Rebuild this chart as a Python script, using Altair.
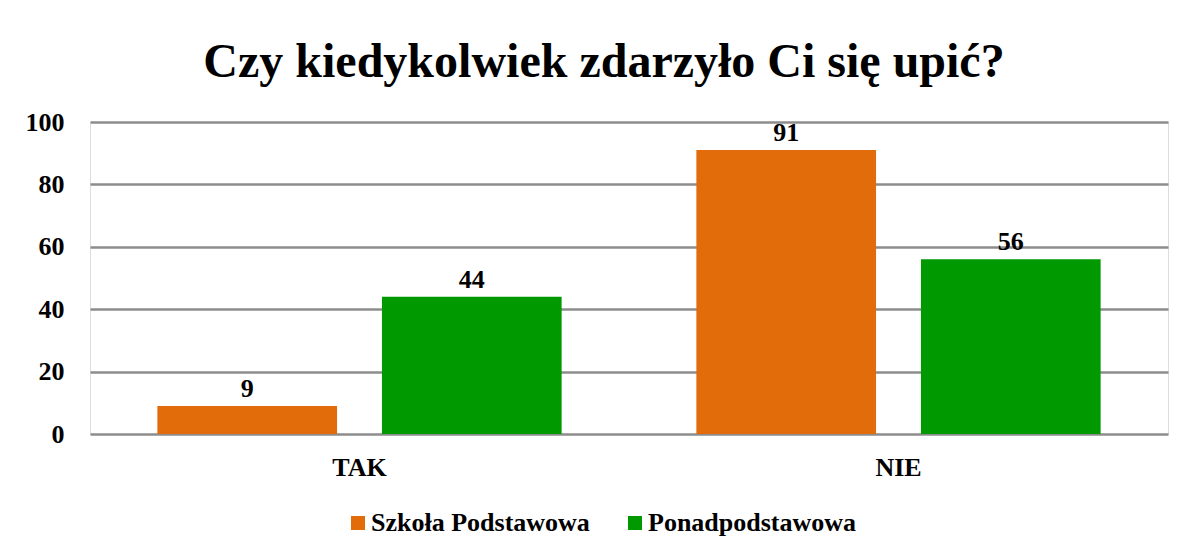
import altair as alt
import pandas as pd

categories = ["TAK", "NIE"]
series = ["Szkoła Podstawowa", "Ponadpodstawowa"]
values_sp = [9, 91]
values_pp = [44, 56]
colors = ["#E36C0A", "#009900"]
y_ticks = [0, 20, 40, 60, 80, 100]

rows = []
for i, c in enumerate(categories):
    rows.append({"kategoria": c, "szkoła": series[0], "wartość": values_sp[i]})
    rows.append({"kategoria": c, "szkoła": series[1], "wartość": values_pp[i]})
df = pd.DataFrame(rows)

FONT = "Liberation Serif"
W = 600

base = alt.Chart(df).encode(
    x=alt.X("kategoria:N", sort=categories,
            scale=alt.Scale(paddingInner=0, paddingOuter=0),
            axis=alt.Axis(title=None, labelAngle=0, labelFont=FONT, labelFontSize=26,
                          labelFontWeight=W, labelColor="black", labelPadding=20,
                          ticks=False, domain=False, grid=False)),
    xOffset=alt.XOffset("szkoła:N", sort=series,
                        scale=alt.Scale(paddingInner=0.2, paddingOuter=0.3)),
)

bars = base.mark_bar().encode(
    y=alt.Y("wartość:Q", scale=alt.Scale(domain=[0, 100], nice=False),
            axis=alt.Axis(title=None, values=y_ticks, labelFont=FONT, labelFontSize=26,
                          labelFontWeight=W, labelColor="black", labelPadding=26,
                          ticks=False, domain=False, gridColor="#8c8c8c", gridWidth=2.5,
                          gridOpacity=1)),
    color=alt.Color("szkoła:N", sort=series,
                    scale=alt.Scale(domain=series, range=colors),
                    legend=alt.Legend(title=None, orient="none", direction="horizontal",
                                      legendX=255, legendY=388, symbolType="square",
                                      symbolSize=196, symbolStrokeWidth=0,
                                      labelFont=FONT, labelFontSize=26, labelLimit=0,
                                      labelFontWeight=W, labelColor="black",
                                      columnPadding=32, labelOffset=0)),
)

labels = base.mark_text(font=FONT, fontSize=26, fontWeight=W, color="black",
                        baseline="alphabetic", dy=-9).encode(
    y=alt.Y("wartość:Q"),
    text=alt.Text("wartość:Q"),
)

chart = alt.layer(bars, labels).properties(
    width=1078, height=312,
    padding={"left": 82, "top": 114, "right": 8, "bottom": 110},
    autosize=alt.AutoSizeParams(type="none"),
    title=alt.Title("Czy kiedykolwiek zdarzyło Ci się upić?", font=FONT, fontSize=48,
                    fontWeight=W, color="black", anchor="middle", dx=-25, offset=22),
).configure_view(stroke=None).configure(background="white")

chart.save("out.html", embed_options={"renderer": "svg", "actions": False})
